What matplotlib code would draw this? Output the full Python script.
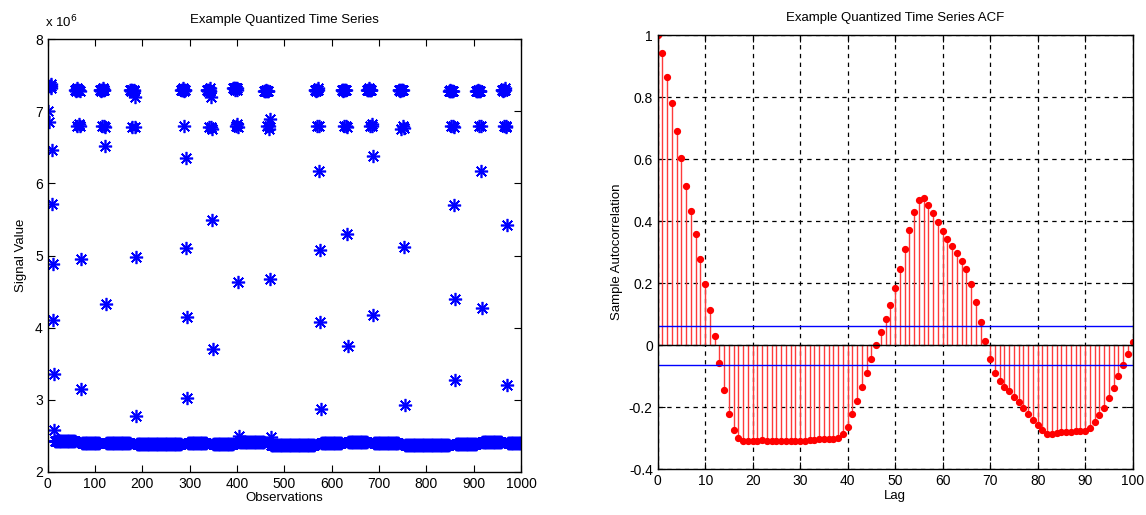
import numpy as np
import matplotlib
matplotlib.use('Agg')
import matplotlib.pyplot as plt

plt.rcParams['font.family'] = ['Liberation Sans', 'DejaVu Sans']

# 量子化された信号 (単位: 1e6) - バースト部分と低レベル区間
bursts = [
    [7.00, 6.85, 7.35, 7.35, 7.35, 7.38, 7.35, 7.32, 6.47, 5.72, 4.88, 4.10, 3.36, 2.58],
    [7.30, 7.30, 7.28, 7.30, 7.32, 6.80, 7.30, 7.30, 7.30, 6.82, 7.28, 6.80, 4.95, 3.15],
    [7.30, 7.30, 7.30, 7.28, 7.30, 6.80, 7.30, 7.32, 7.30, 7.30, 6.80, 6.78, 6.52, 4.33],
    [7.30, 7.30, 7.28, 7.30, 7.30, 6.78, 7.28, 7.28, 7.28, 7.30, 6.78, 7.20, 4.98, 2.78],
    [7.30, 7.30, 7.30, 7.32, 7.30, 6.80, 7.30, 7.28, 7.30, 7.30, 6.35, 5.10, 4.15, 3.02],
    [7.30, 7.30, 7.30, 7.28, 7.30, 6.78, 7.28, 7.28, 7.32, 7.20, 6.78, 6.75, 5.50, 3.70],
    [7.32, 7.32, 7.32, 7.30, 7.32, 6.80, 7.32, 7.32, 7.30, 6.82, 6.78, 4.63, 2.50],
    [7.28, 7.28, 7.28, 7.30, 7.28, 6.80, 7.28, 7.28, 7.28, 6.80, 6.76, 6.90, 4.68, 2.48],
    [7.30, 7.30, 7.30, 7.28, 7.30, 6.80, 7.30, 7.30, 7.32, 6.80, 6.18, 5.08, 4.08, 2.87],
    [7.30, 7.30, 7.30, 7.28, 7.30, 6.80, 7.30, 7.30, 7.30, 7.30, 6.80, 6.78, 5.30, 3.75],
    [7.30, 7.30, 7.30, 7.32, 7.30, 6.80, 7.30, 7.30, 7.30, 7.30, 6.80, 6.82, 6.38, 4.18],
    [7.30, 7.30, 7.30, 7.28, 7.30, 6.75, 7.30, 7.30, 7.30, 6.80, 6.77, 5.12, 2.93],
    [7.28, 7.28, 7.28, 7.30, 7.28, 6.80, 7.28, 7.28, 7.28, 6.80, 6.78, 5.70, 4.40, 3.27],
    [7.28, 7.28, 7.28, 7.30, 7.28, 6.80, 7.28, 7.28, 7.28, 6.80, 6.18, 4.27],
    [7.30, 7.30, 7.30, 7.28, 7.30, 6.80, 7.30, 7.30, 7.32, 6.80, 6.78, 5.42, 3.20],
]
low_len = [43, 38, 50, 94, 40, 42, 53, 92, 43, 40, 53, 93, 44, 41, 28]
low_lvl = [2.42, 2.40, 2.40, 2.38, 2.40, 2.39, 2.41, 2.37, 2.40, 2.41, 2.40, 2.37, 2.38, 2.41, 2.40]

# ACF (lag 0..100)
acf = [1.0, 0.944, 0.866, 0.78, 0.69, 0.604, 0.514, 0.432, 0.358, 0.278,
       0.199, 0.113, 0.03, -0.056, -0.143, -0.22, -0.274, -0.298, -0.308, -0.309,
       -0.308, -0.308, -0.307, -0.308, -0.309, -0.309, -0.309, -0.308, -0.309, -0.308,
       -0.308, -0.309, -0.307, -0.304, -0.302, -0.302, -0.302, -0.301, -0.298, -0.285,
       -0.263, -0.22, -0.181, -0.136, -0.089, -0.044, 0.002, 0.043, 0.086, 0.129,
       0.185, 0.245, 0.312, 0.373, 0.43, 0.468, 0.475, 0.452, 0.427, 0.398,
       0.369, 0.344, 0.32, 0.296, 0.271, 0.245, 0.199, 0.14, 0.075, 0.013,
       -0.044, -0.088, -0.115, -0.134, -0.148, -0.168, -0.183, -0.203, -0.22, -0.24,
       -0.258, -0.274, -0.285, -0.285, -0.282, -0.281, -0.281, -0.28, -0.278, -0.277,
       -0.276, -0.268, -0.248, -0.224, -0.201, -0.17, -0.138, -0.098, -0.065, -0.028,
       0.011]
conf_bound = 0.0632

# 信号を組み立てる
parts = []
for b, n, lv in zip(bursts, low_len, low_lvl):
    parts.append(np.array(b))
    parts.append(np.full(n, lv))
signal = np.concatenate(parts)
obs = np.arange(1, len(signal) + 1)
lags = np.arange(len(acf))

fig = plt.figure(figsize=(11.46, 5.15), dpi=100)

# 左: 時系列
ax1 = fig.add_axes([0.0416, 0.084, 0.413, 0.8396])
ax1.plot(obs, signal, linestyle='none', marker=(8, 2, 0), color='b',
         markersize=9.5, markeredgewidth=1.2)
ax1.set_xlim(0, 1000)
ax1.set_ylim(2, 8)
ax1.set_xticks(np.arange(0, 1001, 100))
ax1.set_yticks(np.arange(2, 9, 1))
ax1.set_title('Example Quantized Time Series', fontsize=9.5, pad=12)
ax1.set_xlabel('Observations', fontsize=9.5, labelpad=1)
ax1.set_ylabel('Signal Value', fontsize=9.5, labelpad=6)
ax1.text(-0.005, 1.02, r'x 10$^6$', transform=ax1.transAxes, fontsize=9.5,
         ha='left', va='bottom')

# 右: ACF
ax2 = fig.add_axes([0.5739, 0.0887, 0.4145, 0.843])
ax2.grid(True, color='k', linestyle=(0, (3.5, 3.5)), linewidth=0.9)
ax2.set_axisbelow(True)
ax2.vlines(lags, 0, acf, color='#ff3a3a', linewidth=1.0)
ax2.plot(lags, acf, 'o', color='r', markersize=4.2)
ax2.axhline(0, color='k', linewidth=1.0)
ax2.axhline(conf_bound, color='b', linewidth=1.0)
ax2.axhline(-conf_bound, color='b', linewidth=1.0)
ax2.set_xlim(0, 100)
ax2.set_ylim(-0.4, 1)
ax2.set_xticks(np.arange(0, 101, 10))
ax2.set_yticks(np.arange(-0.4, 1.01, 0.2))
ax2.set_yticklabels(['-0.4', '-0.2', '0', '0.2', '0.4', '0.6', '0.8', '1'])
ax2.set_title('Example Quantized Time Series ACF', fontsize=9.5, pad=10)
ax2.set_xlabel('Lag', fontsize=9.5, labelpad=1)
ax2.set_ylabel('Sample Autocorrelation', fontsize=9.5, labelpad=4)

for ax in (ax1, ax2):
    ax.tick_params(direction='in', top=True, right=True, labelsize=10, length=5)
    for s in ax.spines.values():
        s.set_linewidth(1.0)

fig.savefig('out.png', dpi=100)
